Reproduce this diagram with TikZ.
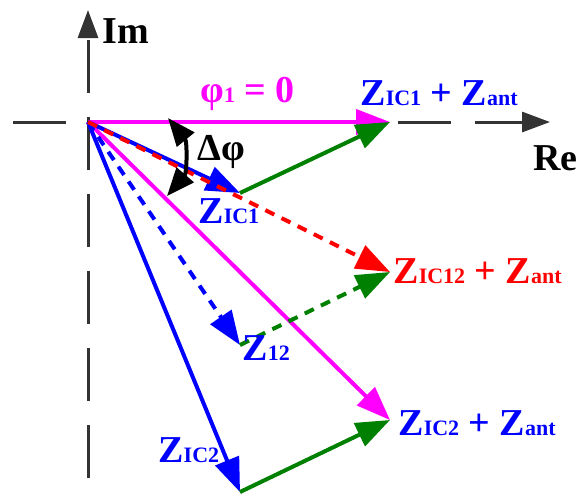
\documentclass[tikz,border=0pt]{standalone}
\usepackage{fontspec}
\setmainfont{Liberation Serif}
\usetikzlibrary{arrows.meta}
\definecolor{vmag}{RGB}{255,0,255}
\definecolor{vgreen}{RGB}{0,128,0}
\definecolor{vblue}{RGB}{0,0,255}
\definecolor{vred}{RGB}{255,0,0}
\newcommand{\zsub}[1]{{\fontsize{11}{11}\selectfont #1}}

\begin{document}
\begin{tikzpicture}[
  x=0.5pt,y=-0.5pt,
  >={Triangle[length=17pt,width=12.5pt]},
  axis/.style={-{Triangle[length=14pt,width=10pt]},line width=1.5pt,black!80,
    dash pattern=on 26.5pt off 12pt},
  vec/.style={->,line width=2pt},
  dvec/.style={->,line width=2pt,dash pattern=on 5pt off 4pt},
  lbl/.style={font=\fontsize{19}{19}\selectfont\bfseries,inner sep=0pt,anchor=base west}
]
  \useasboundingbox (0,0) rectangle (577,500);

  % points
  \coordinate (O) at (88,122);
  \coordinate (ybot) at (88,478);
  \coordinate (ytop) at (88,10);
  \coordinate (xl) at (13,122);
  \coordinate (xr) at (550,122);
  \coordinate (z1) at (240,193);
  \coordinate (z12) at (240,345);
  \coordinate (z2) at (240,492);
  \coordinate (s1) at (390,122);
  \coordinate (s12) at (390,272);
  \coordinate (s2) at (390,420);
  \coordinate (d1) at (168,118);
  \coordinate (d2) at (167,196);

  % axes
  \draw[axis] (ybot) -- (ytop);
  \draw[axis] (xl) -- (xr);
  \node[lbl] (im) at (102,43) {Im};
  \node[lbl] (re) at (533,170) {Re};

  % vectors
  \draw[vec,vmag] (O) -- (s1);
  \draw[vec,vmag] (O) -- (s2);
  \draw[vec,vblue] (O) -- (z1);
  \draw[vec,vblue] (O) -- (z2);
  \draw[dvec,vblue] (O) -- (z12);
  \draw[vec,vgreen] (z1) -- (s1);
  \draw[vec,vgreen] (z2) -- (s2);
  \draw[dvec,vgreen] (z12) -- (s12);
  \draw[dvec,vred] (O) -- (s12);

  % angle
  \draw[{Triangle[length=14pt,width=11pt]}-{Triangle[length=14pt,width=11pt]},
    line width=2pt] (d1) to[bend left=40] (d2);

  % labels
  \node[lbl,vmag] (phi) at (200,102) {φ\zsub{1} = 0};
  \node[lbl] (dphi) at (197,160) {Δφ};
  \node[lbl,vblue] (ls1) at (360,105) {Z\zsub{IC1} + Z\zsub{ant}};
  \node[lbl,vblue] (lz1) at (198,223) {Z\zsub{IC1}};
  \node[lbl,vred] (ls12) at (393,283) {Z\zsub{IC12} + Z\zsub{ant}};
  \node[lbl,vblue] (lz12) at (242,360) {Z\zsub{12}};
  \node[lbl,vblue] (ls2) at (398,435) {Z\zsub{IC2} + Z\zsub{ant}};
  \node[lbl,vblue] (lz2) at (158,462) {Z\zsub{IC2}};
\end{tikzpicture}
\end{document}
